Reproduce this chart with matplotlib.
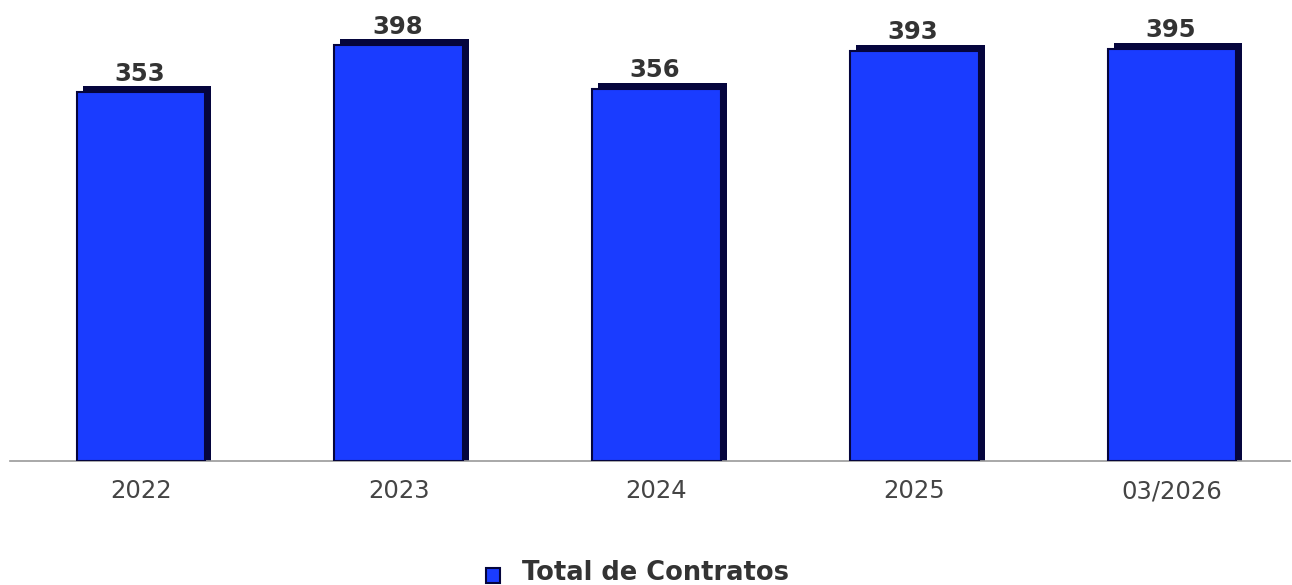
import matplotlib
matplotlib.use('Agg')
import matplotlib.pyplot as plt
from matplotlib.patches import Rectangle
from matplotlib.transforms import ScaledTranslation

categories = ['2022', '2023', '2024', '2025', '03/2026']
values = [353, 398, 356, 393, 395]
series_name = 'Total de Contratos'

W, H, DPI = 1292, 585, 100
fig = plt.figure(figsize=(W / DPI, H / DPI), dpi=DPI)
ax = fig.add_axes([10 / W, 124 / H, 1280 / W, 461 / H])

x = list(range(len(categories)))
face = '#1a3cff'
dark = '#05053d'

# shadow bar shifted right/up for the 3d look
sx, sy = 6, 6
shift = ScaledTranslation(sx / DPI, sy / DPI, fig.dpi_scale_trans)
ax.bar(x, [v + sy / 1.044 for v in values], width=0.5, bottom=-sy / 1.044, color=dark,
       transform=ax.transData + shift, zorder=2)
ax.bar(x, values, width=0.5, color=face, edgecolor=dark, linewidth=1.5, zorder=3)

for xi, v in zip(x, values):
    ax.annotate(str(v), (xi, v), xytext=(-1, 8.5), textcoords='offset points',
                ha='center', va='baseline', fontsize=17.5, fontweight='bold',
                color='#333333')

ax.set_xlim(-0.508, 4.458)
ax.set_ylim(0, 441.5)
ax.set_xticks(x)
ax.set_xticklabels(categories, fontsize=17.5, color='#444444')
ax.tick_params(axis='x', length=0, pad=13)
ax.set_yticks([])
for s in ['top', 'right', 'left']:
    ax.spines[s].set_visible(False)
ax.spines['bottom'].set_color('#999999')
ax.spines['bottom'].set_linewidth(1.2)

# legend drawn by hand
fig.patches.append(Rectangle((486 / W, 2 / H), 14 / W, 15 / H, transform=fig.transFigure,
                             facecolor=face, edgecolor=dark, linewidth=1.5))
fig.text(522 / W, 5 / H, series_name, fontsize=18.5, fontweight='bold',
         color='#333333', va='baseline', ha='left')

fig.savefig('out.png', dpi=DPI)
